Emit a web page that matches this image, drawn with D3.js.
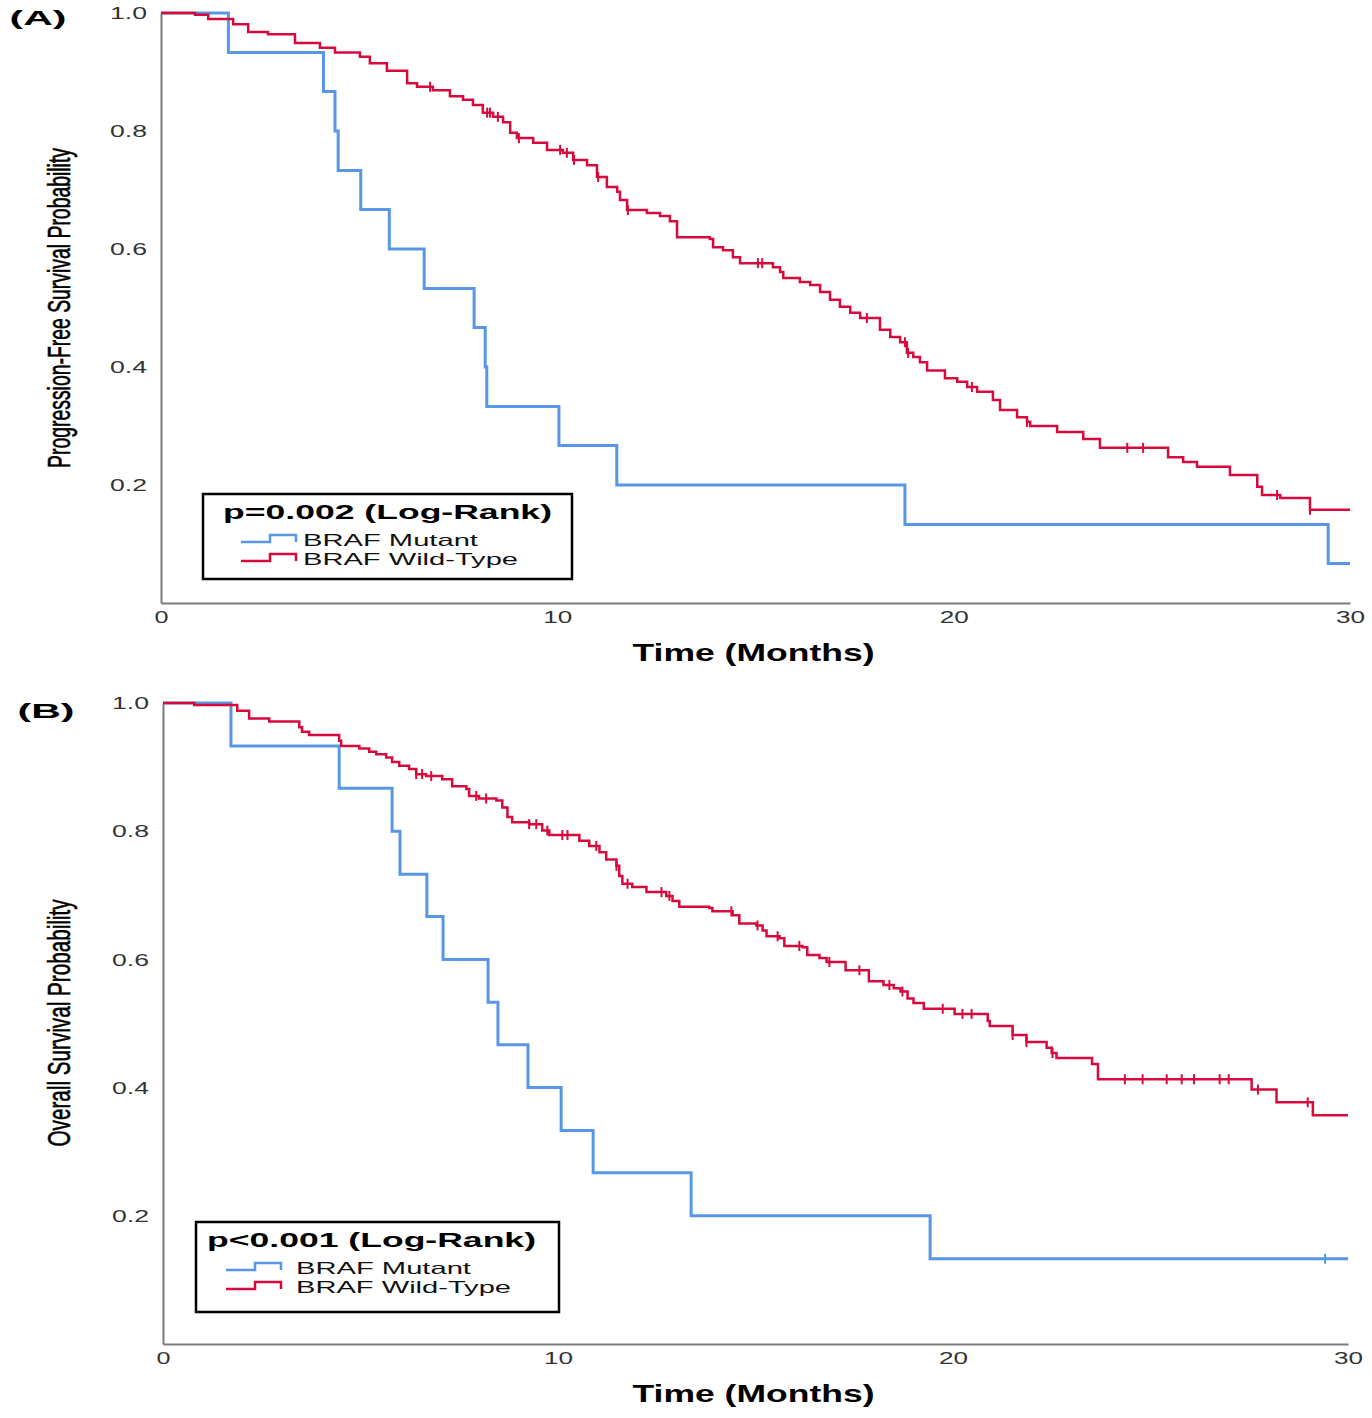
<!DOCTYPE html>
<html>
<head>
<meta charset="utf-8">
<script src="https://cdn.jsdelivr.net/npm/d3@7"></script>
<style>
  body { margin: 0; background: #fff; }
  svg { display: block; }
  text { font-family: "Liberation Sans", Arial, sans-serif; }
</style>
</head>
<body>
<svg id="chart" width="1372" height="1418"></svg>
<script>
// ---- data (time in months, survival probability) ----
const xTicks = [0, 10, 20, 30];
const yTicks = [0.2, 0.4, 0.6, 0.8, 1.0];
const seriesNames = ["BRAF Mutant", "BRAF Wild-Type"];

// (A) progression-free survival
const pfsMutTime = [0, 1.70, 4.10, 4.39, 4.47, 5.04, 5.76, 6.64, 7.90, 8.18, 8.22, 10.04, 11.50, 18.77, 29.45];
const pfsMutSurv = [1.000, 0.933, 0.867, 0.800, 0.733, 0.667, 0.600, 0.533, 0.467, 0.400, 0.333, 0.267, 0.200, 0.133, 0.067];
const pfsMutCensor = [];

const pfsWtTime = [0, 0.86, 1.19, 1.82, 2.20, 2.70, 3.38, 4.01, 4.39, 5.02, 5.27, 5.70, 6.21, 6.46, 6.86, 7.29, 7.62, 7.87, 8.12, 8.38,
  8.63, 8.81, 8.98, 9.39, 9.74, 10.14, 10.40, 10.75, 11.00, 11.25, 11.51, 11.58, 11.76, 12.26, 12.59, 12.84, 13.02, 13.85, 13.93, 14.18,
  14.43, 14.61, 15.44, 15.62, 15.70, 16.12, 16.38, 16.63, 16.88, 17.13, 17.39, 17.64, 18.14, 18.40, 18.65, 18.82, 18.98, 19.15, 19.33, 19.78,
  20.09, 20.34, 20.59, 20.99, 21.17, 21.60, 21.85, 21.93, 22.61, 23.27, 23.69, 25.41, 25.79, 26.14, 26.97, 27.66, 27.78, 28.24, 28.99];
const pfsWtSurv = [1.000, 0.997, 0.990, 0.981, 0.968, 0.964, 0.949, 0.941, 0.933, 0.926, 0.915, 0.902, 0.881, 0.875, 0.869, 0.859, 0.853, 0.844, 0.831, 0.824,
  0.815, 0.797, 0.788, 0.780, 0.768, 0.763, 0.751, 0.742, 0.722, 0.705, 0.697, 0.683, 0.666, 0.661, 0.656, 0.647, 0.620, 0.617, 0.603, 0.598,
  0.586, 0.576, 0.569, 0.561, 0.551, 0.544, 0.539, 0.527, 0.514, 0.502, 0.492, 0.483, 0.463, 0.451, 0.442, 0.424, 0.417, 0.408, 0.394, 0.381,
  0.375, 0.366, 0.358, 0.344, 0.327, 0.315, 0.307, 0.300, 0.290, 0.278, 0.263, 0.247, 0.239, 0.231, 0.217, 0.197, 0.183, 0.178, 0.158];
const pfsWtCensor = [6.79, 8.23, 8.30, 8.50, 9.03, 10.07, 10.24, 10.42, 11.03, 11.78, 15.06, 15.17, 17.81, 18.77, 18.85, 20.46, 21.85,
  24.38, 24.78, 28.16, 28.99];

// (B) overall survival
const osMutTime = [0, 1.72, 4.46, 5.80, 6.00, 6.68, 7.09, 8.23, 8.48, 9.24, 10.08, 10.89, 13.37, 19.42];
const osMutSurv = [1.000, 0.933, 0.867, 0.800, 0.733, 0.667, 0.600, 0.533, 0.467, 0.400, 0.333, 0.267, 0.200, 0.133];
const osMutCensor = [29.42];

const osWtTime = [0, 0.79, 1.88, 2.18, 2.69, 3.45, 3.52, 3.70, 4.46, 4.51, 4.97, 5.22, 5.40, 5.65, 5.80, 5.98, 6.23, 6.41, 6.66, 7.07,
  7.32, 7.68, 7.75, 8.00, 8.44, 8.59, 8.72, 8.84, 9.27, 9.60, 9.78, 10.54, 10.79, 11.05, 11.22, 11.48, 11.55, 11.63, 11.88, 12.24,
  12.74, 12.90, 13.07, 13.83, 13.91, 14.42, 14.59, 15.02, 15.18, 15.28, 15.61, 15.73, 16.19, 16.31, 16.62, 16.80, 17.28, 17.87, 18.24, 18.50,
  18.67, 18.85, 19.00, 19.26, 20.04, 20.88, 20.93, 21.51, 21.86, 22.37, 22.50, 22.62, 23.52, 23.67, 27.56, 28.19, 29.11];
const osWtSurv = [1.000, 0.997, 0.988, 0.976, 0.971, 0.962, 0.955, 0.950, 0.941, 0.933, 0.929, 0.924, 0.920, 0.915, 0.908, 0.902, 0.897, 0.889, 0.886, 0.881,
  0.870, 0.866, 0.855, 0.851, 0.848, 0.837, 0.822, 0.814, 0.811, 0.801, 0.794, 0.785, 0.777, 0.767, 0.756, 0.746, 0.730, 0.718, 0.713, 0.705,
  0.699, 0.691, 0.682, 0.680, 0.675, 0.669, 0.656, 0.653, 0.645, 0.636, 0.633, 0.621, 0.619, 0.607, 0.602, 0.596, 0.583, 0.566, 0.560, 0.555,
  0.550, 0.539, 0.532, 0.523, 0.515, 0.504, 0.496, 0.482, 0.471, 0.462, 0.454, 0.446, 0.437, 0.413, 0.397, 0.377, 0.357];
const osWtCensor = [6.41, 6.56, 6.79, 7.93, 8.18, 9.27, 9.45, 9.73, 10.11, 10.24, 10.97, 11.48, 11.76, 12.62, 12.82, 14.39, 15.05, 15.56,
  16.11, 16.87, 17.63, 18.39, 18.72, 19.74, 20.24, 20.47, 21.51, 21.86, 22.52, 24.35, 24.80, 25.41, 25.79, 26.10, 26.75, 26.98, 27.72, 28.98];

const endTime = 30;

// ---- drawing ----
const svg = d3.select("#chart");
const blue = "#5797e6";
const red = "#d60a3c";
const axisGrey = "#7c7c7c";

const panels = [
  {
    tag: "(A)", tagX: 38, tagY: 18, tagLen: 57,
    yTitle: "Progression-Free Survival Probability", yTitleY: 308, yTitleLen: 320,
    left: 161, right: 1350, top: 13, bottom: 603,
    pLabel: "p=0.002 (Log-Rank)", pShift: 0, keyX: 38,
    box: { x: 203, y: 494, w: 369, h: 85 },
    series: [
      { time: pfsMutTime, surv: pfsMutSurv, censor: pfsMutCensor, color: blue, width: 3 },
      { time: pfsWtTime, surv: pfsWtSurv, censor: pfsWtCensor, color: red, width: 2.5 }
    ]
  },
  {
    tag: "(B)", tagX: 46, tagY: 711, tagLen: 57,
    yTitle: "Overall Survival Probability", yTitleY: 1023, yTitleLen: 247,
    left: 163, right: 1348, top: 703, bottom: 1344,
    pLabel: "p<0.001 (Log-Rank)", pShift: -6, keyX: 30,
    box: { x: 196, y: 1222, w: 363, h: 90 },
    series: [
      { time: osMutTime, surv: osMutSurv, censor: osMutCensor, color: blue, width: 3 },
      { time: osWtTime, surv: osWtSurv, censor: osWtCensor, color: red, width: 2.5 }
    ]
  }
];

function survAt(s, t) {
  const i = d3.bisectRight(s.time, t) - 1;
  return s.surv[Math.max(0, i)];
}

panels.forEach(p => {
  const x = d3.scaleLinear().domain([0, endTime]).range([p.left, p.right]);
  const y = d3.scaleLinear().domain([0, 1]).range([p.bottom, p.top]);
  const g = svg.append("g");

  // y axis
  const ya = g.append("g")
    .attr("transform", `translate(${p.left},0)`)
    .call(d3.axisLeft(y).tickValues(yTicks).tickFormat(d3.format(".1f")).tickSize(0).tickPadding(14));
  ya.select(".domain").attr("stroke", axisGrey).attr("stroke-width", 2);
  ya.selectAll("text")
    .attr("font-size", 16).attr("font-family", "Liberation Sans, Arial, sans-serif")
    .attr("fill", "#333").attr("dy", "0.36em")
    .attr("textLength", 37).attr("lengthAdjust", "spacingAndGlyphs");

  // x axis
  const xa = g.append("g")
    .attr("transform", `translate(0,${p.bottom})`)
    .call(d3.axisBottom(x).tickValues(xTicks).tickFormat(d3.format("d")).tickSize(0).tickPadding(9));
  xa.select(".domain").attr("stroke", axisGrey).attr("stroke-width", 2);
  xa.selectAll("text")
    .attr("font-size", 16).attr("font-family", "Liberation Sans, Arial, sans-serif")
    .attr("fill", "#333")
    .attr("textLength", d => d === 0 ? 14 : 29).attr("lengthAdjust", "spacingAndGlyphs");

  // curves
  const line = d3.line()
    .x(d => x(d[0]))
    .y(d => y(d[1]))
    .curve(d3.curveStepAfter);

  p.series.forEach(s => {
    const pts = s.time.map((t, i) => [t, s.surv[i]]);
    pts.push([endTime, s.surv[s.surv.length - 1]]);
    g.append("path")
      .datum(pts)
      .attr("d", line)
      .attr("fill", "none")
      .attr("stroke", s.color)
      .attr("stroke-width", s.width)
      .attr("stroke-linejoin", "miter");

    g.selectAll(null)
      .data(s.censor)
      .join("line")
      .attr("x1", t => x(t)).attr("x2", t => x(t))
      .attr("y1", t => y(survAt(s, t)) - 5)
      .attr("y2", t => y(survAt(s, t)) + 5)
      .attr("stroke", s.color)
      .attr("stroke-width", 2);
  });

  // axis titles
  g.append("text")
    .attr("x", (p.left + p.right) / 2 - 2)
    .attr("y", p.bottom + 58)
    .attr("text-anchor", "middle")
    .attr("font-size", 24).attr("font-weight", "bold")
    .attr("textLength", 242).attr("lengthAdjust", "spacingAndGlyphs")
    .text("Time (Months)");

  // condensed vertical title: smaller font, stretched across the glyph height
  g.append("text")
    .attr("transform", `translate(70,${p.yTitleY}) rotate(-90) scale(1,1.45)`)
    .attr("text-anchor", "middle")
    .attr("font-family", "Liberation Sans Narrow, Arial Narrow, Liberation Sans, sans-serif")
    .attr("font-size", 21)
    .attr("stroke", "#000").attr("stroke-width", 0.4)
    .attr("textLength", p.yTitleLen).attr("lengthAdjust", "spacingAndGlyphs")
    .text(p.yTitle);

  // panel tag
  g.append("text")
    .attr("x", p.tagX).attr("y", p.tagY + 7)
    .attr("text-anchor", "middle")
    .attr("font-size", 21).attr("font-weight", "bold")
    .attr("textLength", p.tagLen).attr("lengthAdjust", "spacingAndGlyphs")
    .text(p.tag);

  // legend
  const b = p.box;
  const lg = g.append("g").attr("transform", `translate(${b.x},${b.y})`);
  lg.append("rect")
    .attr("width", b.w).attr("height", b.h)
    .attr("fill", "#fff").attr("stroke", "#000").attr("stroke-width", 2.5);
  lg.append("text")
    .attr("x", b.w / 2 + p.pShift).attr("y", 25)
    .attr("text-anchor", "middle")
    .attr("font-size", 20).attr("font-weight", "bold")
    .attr("textLength", 329).attr("lengthAdjust", "spacingAndGlyphs")
    .text(p.pLabel);
  seriesNames.forEach((name, i) => {
    const cy = 46 + i * 19;
    const sx = p.keyX;
    lg.append("path")
      .attr("d", `M${sx},${cy + 2}H${sx + 29}V${cy - 5}H${sx + 55}V${cy + 2}`)
      .attr("fill", "none")
      .attr("stroke", p.series[i].color)
      .attr("stroke-width", 2.5);
    lg.append("text")
      .attr("x", 100).attr("y", cy + 6)
      .attr("font-size", 16.5)
      .attr("fill", "#111")
      .attr("textLength", i === 0 ? 175 : 215).attr("lengthAdjust", "spacingAndGlyphs")
      .text(name);
  });
});
</script>
</body>
</html>
